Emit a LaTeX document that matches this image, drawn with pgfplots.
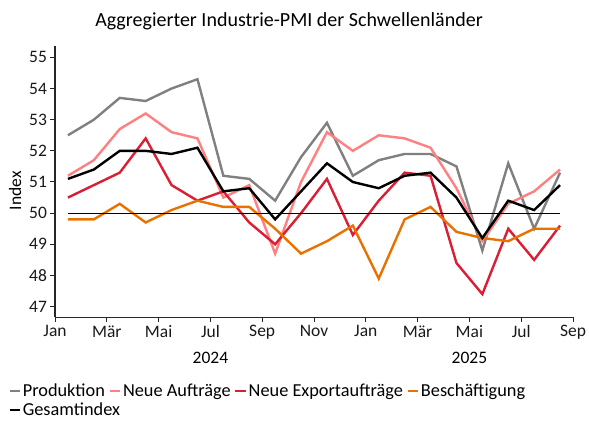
\documentclass[border=0pt]{standalone}
\usepackage{fontspec}
\setmainfont{Carlito}
\usepackage{pgfplots}
\usepackage{pgfplotstable}
\pgfplotsset{compat=1.18}
\definecolor{cgray}{RGB}{128,128,128}
\definecolor{cpink}{RGB}{255,128,128}
\definecolor{cred}{RGB}{218,30,52}
\definecolor{corange}{RGB}{232,114,0}
\pgfplotstableread{
x prod auf exp bes ges
0.5 52.5 51.2 50.5 49.8 51.1
1.5 53.0 51.7 50.9 49.8 51.4
2.5 53.7 52.7 51.3 50.3 52.0
3.5 53.6 53.2 52.4 49.7 52.0
4.5 54.0 52.6 50.9 50.1 51.9
5.5 54.3 52.4 50.4 50.4 52.1
6.5 51.2 50.5 50.7 50.2 50.7
7.5 51.1 50.9 49.7 50.2 50.8
8.5 50.4 48.7 49.0 49.5 49.8
9.5 51.8 51.0 50.0 48.7 50.7
10.5 52.9 52.6 51.1 49.1 51.6
11.5 51.2 52.0 49.3 49.6 51.0
12.5 51.7 52.5 50.4 47.9 50.8
13.5 51.9 52.4 51.3 49.8 51.2
14.5 51.9 52.1 51.2 50.2 51.3
15.5 51.5 50.8 48.4 49.4 50.5
16.5 48.8 49.1 47.4 49.2 49.2
17.5 51.6 50.3 49.5 49.1 50.4
18.5 49.5 50.7 48.5 49.5 50.1
19.5 51.3 51.4 49.6 49.5 50.9
}\datatable
\begin{document}
\begin{tikzpicture}
\path[use as bounding box] (0,0) rectangle (589pt,423pt);
\node[anchor=base, font=\fontsize{20}{24}\selectfont] at (289pt,396.3pt) {Aggregierter Industrie-PMI der Schwellenländer};
\begin{axis}[
  at={(55pt,105.5pt)}, anchor=origin,
  scale only axis, width=518pt, height=271pt,
  xmin=0, xmax=20, ymin=46.65, ymax=55.35,
  axis lines=left,
  axis line style={-, line width=1.2pt, color=black!85},
  tick style={line width=1pt, color=black!85},
  tick align=outside, major tick length=4.5pt,
  xtick={0,2,...,20},
  xticklabels={Jan,Mär,Mai,Jul,Sep,Nov,Jan,Mär,Mai,Jul,Sep},
  ytick={47,48,...,55},
  /pgf/number format/assume math mode=true,
  ticklabel style={font=\fontsize{17.5}{20}\selectfont, text=black!90},
  every axis y label/.style={at={(axis description cs:-0.0772,0.4675)}, rotate=90, anchor=center},
  ylabel={Index},
  ylabel style={font=\fontsize{17.5}{20}\selectfont},
  clip=false,
  legend columns=4,
  legend cell align=left,
  legend style={at={(axis description cs:-0.0907,-0.2420)}, anchor=north west, draw=none, fill=none,
    inner sep=0pt, font=\fontsize{18.3}{21}\selectfont, row sep=4pt,
    nodes={inner xsep=1pt, inner ysep=0.5pt},
    /tikz/every odd column/.append style={column sep=0.5pt},
    /tikz/every even column/.append style={column sep=2.5pt}},
  legend image code/.code={\draw[#1, line width=2.6pt] (0pt,0pt) -- (10.5pt,0pt);},
]
\addplot[no marks, line width=2.4pt, color=cgray] table[x=x,y=prod] {\datatable};
\addlegendentry{Produktion}
\addplot[no marks, line width=2.4pt, color=cpink] table[x=x,y=auf] {\datatable};
\addlegendentry{Neue Aufträge}
\addplot[no marks, line width=2.4pt, color=cred] table[x=x,y=exp] {\datatable};
\addlegendentry{Neue Exportaufträge}
\addplot[no marks, line width=2.4pt, color=corange] table[x=x,y=bes] {\datatable};
\addlegendentry{Beschäftigung}
\addplot[no marks, line width=2.4pt, color=black] table[x=x,y=ges] {\datatable};
\addlegendentry{\rlap{Gesamtindex}}
\addplot[no marks, line width=0.8pt, color=black, forget plot] coordinates {(0.5,50) (19.5,50)};
\node[anchor=base, font=\fontsize{17.5}{20}\selectfont] at (axis cs:6,46.65) [yshift=-45.8pt] {2024};
\node[anchor=base, font=\fontsize{17.5}{20}\selectfont] at (axis cs:16,46.65) [yshift=-45.8pt] {2025};
\end{axis}
\end{tikzpicture}
\end{document}
